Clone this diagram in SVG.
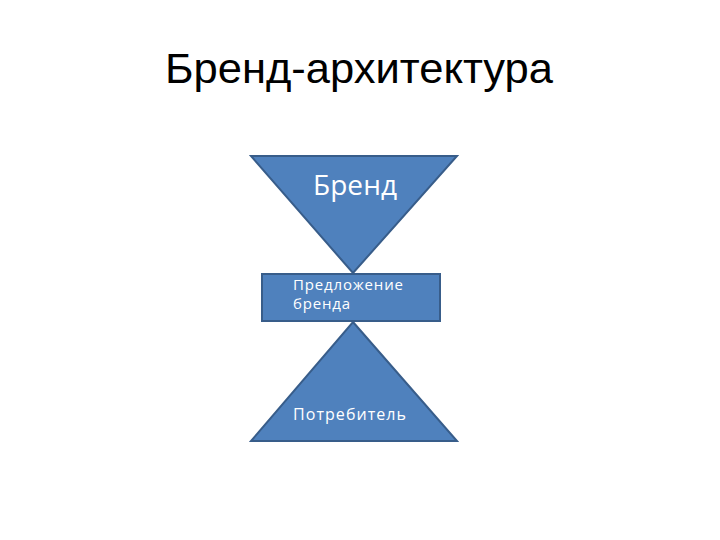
<svg xmlns="http://www.w3.org/2000/svg" width="720" height="540" viewBox="0 0 720 540">
<style>
.shape{fill:#4F81BD;stroke:#385D8A;stroke-width:2}
.lbl{fill:#FFFFFF;font-family:"Open Sans","Liberation Sans",sans-serif}
.title{fill:#000;font-family:"Liberation Sans",Arial,sans-serif;font-size:42px}
</style>
<rect width="720" height="540" fill="#FFFFFF"/>
<text class="title" x="165" y="83" textLength="388" lengthAdjust="spacingAndGlyphs">Бренд-архитектура</text>
<g id="connectors"></g>
<g id="brand">
<polygon class="shape" points="251,156 457,156 353,273"/>
<text class="lbl" x="313" y="195" font-size="28" textLength="84">Бренд</text>
</g>
<g id="offer">
<rect class="shape" x="262" y="274" width="178" height="47"/>
<text class="lbl" x="293" y="290" font-size="15" textLength="110">Предложение</text>
<text class="lbl" x="293" y="309" font-size="15" textLength="57">бренда</text>
</g>
<g id="consumer">
<polygon class="shape" points="353,322 457,441 251,441"/>
<text class="lbl" x="293" y="420" font-size="16" textLength="113">Потребитель</text>
</g>
</svg>
